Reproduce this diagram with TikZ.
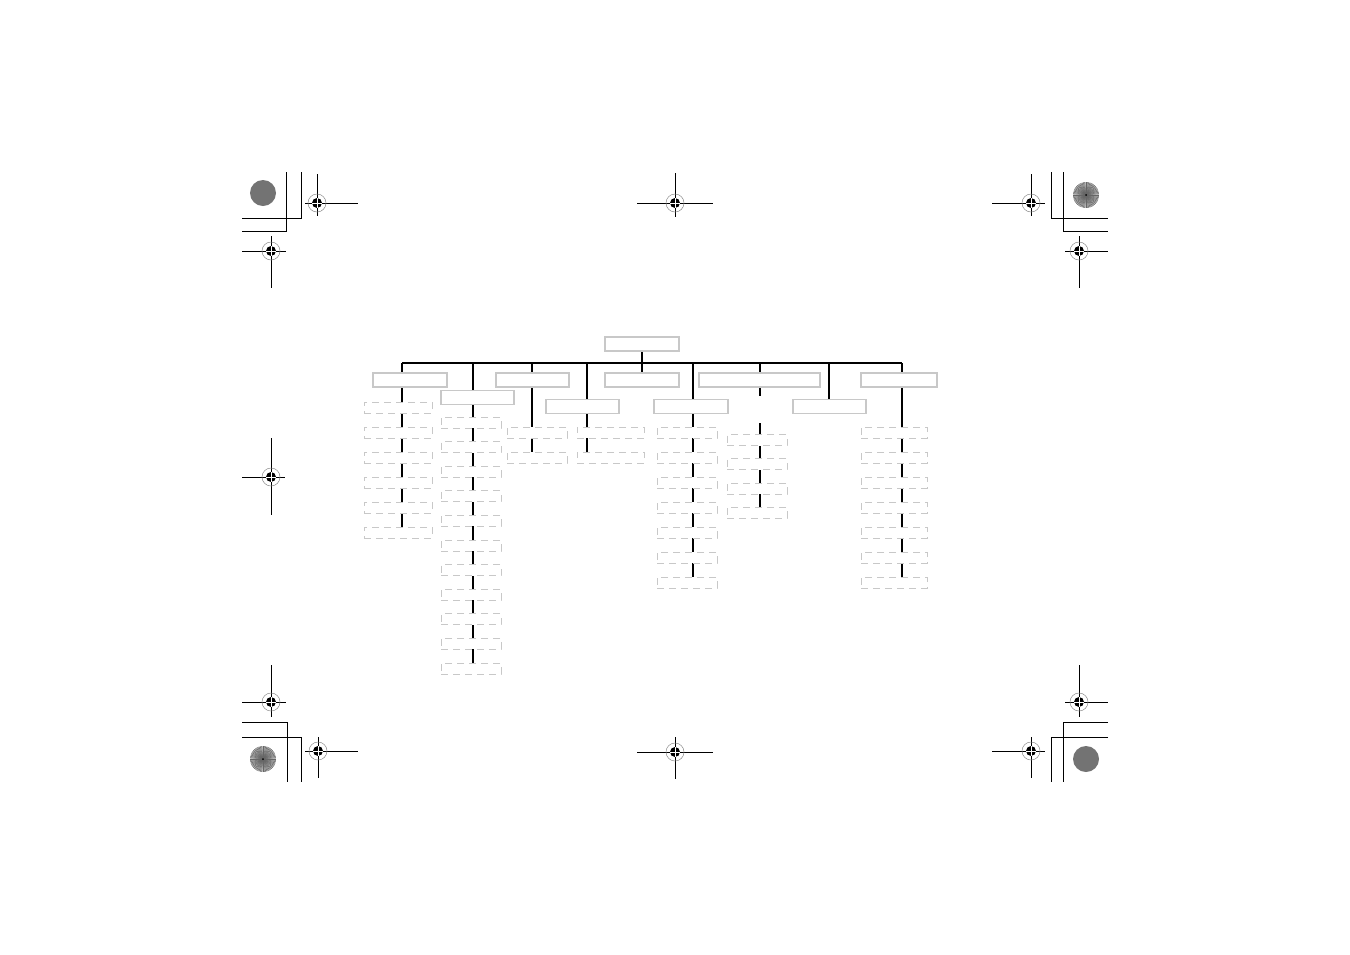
\documentclass[tikz,border=0pt]{standalone}
\usepackage{tikz}
\usetikzlibrary{backgrounds}
\definecolor{boxgray}{RGB}{200,200,200}

\tikzset{
  regmark/.pic={
    \draw[black!45,line width=0.5pt] (0,0) circle (9pt);
    \fill (0,0) circle (5pt);
    \draw[white,line width=0.8pt] (-5,0) -- (5,0) (0,-5) -- (0,5);
  },
  burst/.pic={
    \fill[black!25] (0,0) circle (13pt);
    \foreach \a in {0,6,...,354}
      \draw[black!60,line width=0.5pt] (0,0) -- (\a:13pt);
    \fill[black] (0,0) circle (1pt);
  }
}

\begin{document}
\begin{tikzpicture}[x=1pt,y=-1pt,
  box/.style={draw=boxgray,line width=1.5pt,fill=white,minimum height=14pt,inner sep=0pt},
  sub/.style={draw=boxgray,line width=1pt,dash pattern=on 7pt off 5pt,fill=white,minimum height=11pt,inner sep=0pt},
  bar/.style={line width=1.8pt},
  crop/.style={line width=0.8pt}]
\useasboundingbox (0,0) rectangle (1350,954);

% chart boxes
\node[box,minimum width=74pt] (root) at (642,344) {};
\node[box,minimum width=74pt] (a) at (410,380) {};
\node[box,minimum width=73pt] (b) at (477.5,397.5) {};
\node[box,minimum width=73pt] (c) at (532.5,380) {};
\node[box,minimum width=73pt] (d) at (582.5,406.5) {};
\node[box,minimum width=74pt] (e) at (642,380) {};
\node[box,minimum width=74pt] (f) at (691,406.5) {};
\node[box,minimum width=121pt] (g) at (759.5,380) {};
\node[box,minimum width=73pt] (h) at (829.5,406.5) {};
\node[box,minimum width=76pt] (i) at (899,380) {};

\foreach \k in {1,...,6}
  \node[sub,minimum width=68pt] (a\k) at (398,{407.5+25*(\k-1)}) {};
\foreach \k in {1,...,11}
  \node[sub,minimum width=60pt] (b\k) at (471,{422.5+24.6*(\k-1)}) {};
\foreach \k in {1,2} {
  \node[sub,minimum width=60pt] (c\k) at (537,{432.5+25*(\k-1)}) {};
  \node[sub,minimum width=67pt] (d\k) at (610.5,{432.5+25*(\k-1)}) {};
}
\foreach \k in {1,...,7} {
  \node[sub,minimum width=60pt] (f\k) at (687,{432.5+25*(\k-1)}) {};
  \node[sub,minimum width=66pt] (i\k) at (894,{432.5+25*(\k-1)}) {};
}
\foreach \k in {1,...,4}
  \node[sub,minimum width=60pt] (g\k) at (757,{440+24.3*(\k-1)}) {};

% connectors
\begin{pgfonlayer}{background}
  \coordinate (tA) at (402,363);
  \coordinate (tB) at (473,363);
  \coordinate (tC) at (532,363);
  \coordinate (tD) at (587,363);
  \coordinate (tE) at (642,363);
  \coordinate (tF) at (693,363);
  \coordinate (tG) at (760,363);
  \coordinate (tH) at (829,363);
  \coordinate (tI) at (902,363);
  \draw[bar] (root.south) -- (tE);
  \draw[line width=1.5pt] (tA) -- (tI);
  \draw[bar] (tA) -- (tA |- a6);
  \draw[bar] (tB) -- (tB |- b11);
  \draw[bar] (tC) -- (tC |- c2);
  \draw[bar] (tD) -- (tD |- d2);
  \draw[bar] (tE) -- (e.north);
  \draw[bar,line width=2.4pt] (tF) -- (tF |- f7);
  \draw[bar,dash pattern=on 33pt off 27pt on 200pt] (tG) -- (tG |- g4);
  \draw[bar] (tH) -- (tH |- h.north);
  \draw[bar] (tI) -- (tI |- i7);
\end{pgfonlayer}

% trim corners
\draw[crop] (301,172) -- (301,218) -- (242,218) (286,172) -- (286,231) -- (242,231);
\draw[crop] (1051,172) -- (1051,218) -- (1108,218) (1063,172) -- (1063,231) -- (1108,231);
\draw[crop] (242,722) -- (287,722) -- (287,782) (242,737) -- (301,737) -- (301,782);
\draw[crop] (1108,722) -- (1063,722) -- (1063,782) (1108,737) -- (1051,737) -- (1051,782);

% register marks
\foreach \cx/\cy/\l/\r/\t/\b in {317/203/305/358/174/216, 271/251/242/286/236/288,
    675/203/637/713/173/217, 1031/203/992/1045/174/216, 1079/251/1065/1108/236/288,
    271/477/242/285/438/515, 271/702/242/286/665/717, 318/751/305/358/737/778,
    675/752/637/713/737/779, 1079/702/1065/1108/665/717, 1031/751/992/1045/737/778} {
  \draw[crop] (\l,\cy) -- (\r,\cy) (\cx,\t) -- (\cx,\b);
  \pic at (\cx,\cy) {regmark};
}

% colour targets
\fill[black!55] (263,193) circle (13pt);
\fill[black!55] (1086,759) circle (13pt);
\pic at (1086,195) {burst};
\pic at (263,759) {burst};
\end{tikzpicture}
\end{document}
